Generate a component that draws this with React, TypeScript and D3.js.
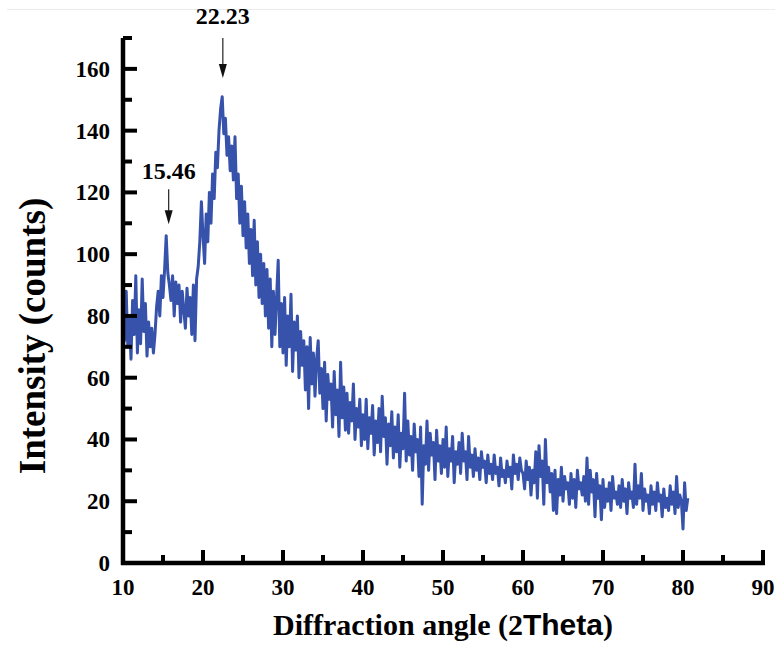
import { useEffect, useRef } from 'react'
import * as d3 from 'd3'

// XRD scan, sampled every 0.2 degrees from 10.0 to 80.6
const angleStart = 10
const angleStep = 0.2
const intensities = [
  84, 72, 88, 70, 79, 66, 85, 74, 93, 68,
  82, 71, 92, 75, 84, 67, 78, 70, 76, 68,
  74, 83, 88, 80, 93, 86, 95, 106, 94, 90,
  85, 93, 80, 91, 84, 90, 78, 88, 82, 76,
  89, 80, 86, 74, 90, 72, 92, 96, 104, 117,
  106, 97, 113, 104, 120, 110, 126, 118, 133, 128,
  140, 147, 151, 139, 144, 132, 138, 127, 135, 124,
  138, 118, 126, 110, 122, 106, 117, 102, 113, 97,
  108, 93, 111, 90, 104, 86, 100, 84, 97, 80,
  95, 76, 92, 70, 88, 74, 86, 98, 70, 84,
  68, 86, 64, 80, 70, 87, 62, 78, 69, 80,
  60, 75, 64, 72, 56, 70, 50, 73, 58, 68,
  54, 66, 72, 55, 63, 50, 65, 46, 61, 53,
  58, 44, 62, 48, 56, 41, 65, 47, 57, 43,
  55, 42, 52, 46, 58, 40, 50, 44, 53, 38,
  48, 40, 53, 37, 47, 42, 51, 35, 46, 39,
  50, 36, 54, 41, 47, 32, 45, 38, 49, 34,
  44, 36, 48, 31, 42, 37, 55, 33, 46, 35,
  41, 30, 45, 36, 40, 28, 44, 19, 38, 32,
  46, 30, 42, 35, 39, 27, 43, 33, 38, 29,
  40, 31, 44, 28, 37, 33, 41, 26, 36, 32,
  39, 29, 42, 33, 36, 27, 41, 31, 35, 28,
  37, 30, 34, 27, 36, 31, 33, 26, 35, 29,
  32, 27, 35, 29, 31, 25, 34, 28, 30, 26,
  33, 28, 31, 24, 35, 29, 32, 27, 34, 30,
  29, 24, 33, 27, 31, 22, 30, 26, 36, 21,
  38, 28, 33, 19, 40, 26, 31, 23, 29, 17,
  30, 16, 27, 22, 31, 20, 28, 24, 26, 19,
  29, 21, 27, 18, 30, 24, 26, 22, 28, 20,
  34, 19, 30, 23, 27, 15, 29, 21, 25, 14,
  27, 18, 24, 20, 26, 17, 28, 21, 23, 19,
  25, 18, 27, 20, 24, 16, 26, 21, 23, 18,
  32, 19, 25, 21, 29, 17, 24, 20, 22, 16,
  25, 19, 23, 17, 26, 20, 22, 15, 24, 18,
  21, 17, 25, 19, 23, 16, 28, 18, 22, 20,
  11, 26, 17, 21
]

const xTicks = [10, 20, 30, 40, 50, 60, 70, 80, 90]
const yTicks = [0, 20, 40, 60, 80, 100, 120, 140, 160]
const peakLabels = [
  { angle: 22.23, text: '22.23', top: 170, len: 40, labelGap: 14 },
  { angle: 15.46, text: '15.46', top: 121, len: 35, labelGap: 10 }
]

const serif = '"Liberation Serif", "Times New Roman", serif'
const sans = '"Liberation Sans", Arial, sans-serif'

export default function App() {
  const ref = useRef<SVGSVGElement>(null)

  useEffect(() => {
    const svg = d3.select(ref.current)
    svg.selectAll('*').remove()

    const W = 775
    const H = 652
    const x = d3.scaleLinear().domain([10, 90]).range([123, 763])
    const y = d3.scaleLinear().domain([0, 170]).range([563, 38])

    svg.append('rect').attr('width', W).attr('height', H).attr('fill', '#fff')

    // faint top rule
    svg.append('line')
      .attr('x1', 7).attr('x2', W).attr('y1', 9.5).attr('y2', 9.5)
      .attr('stroke', '#ececec').attr('stroke-width', 1)

    const points = intensities.map((v, i) => [angleStart + i * angleStep, v] as [number, number])
    const line = d3.line<[number, number]>()
      .x(d => x(d[0]))
      .y(d => y(d[1]))

    svg.append('path')
      .datum(points)
      .attr('d', line)
      .attr('fill', 'none')
      .attr('stroke', '#3752aa')
      .attr('stroke-width', 3)
      .attr('stroke-linejoin', 'round')

    // axes
    const axisG = svg.append('g').attr('stroke', '#000')
    axisG.append('line')
      .attr('x1', x(10)).attr('x2', x(10))
      .attr('y1', y(170)).attr('y2', y(0) + 2)
      .attr('stroke-width', 4.5)
    axisG.append('line')
      .attr('x1', x(10) - 2).attr('x2', x(90) + 2)
      .attr('y1', y(0)).attr('y2', y(0))
      .attr('stroke-width', 4.5)

    const yMinor = d3.range(10, 171, 20)
    axisG.selectAll('.ymaj').data(yTicks.slice(1)).enter().append('line')
      .attr('x1', x(10)).attr('x2', x(10) + 14)
      .attr('y1', d => y(d)).attr('y2', d => y(d))
      .attr('stroke-width', 4)
    axisG.selectAll('.ymin').data(yMinor).enter().append('line')
      .attr('x1', x(10)).attr('x2', x(10) + 9)
      .attr('y1', d => y(d)).attr('y2', d => y(d))
      .attr('stroke-width', 4)

    const xMinor = d3.range(15, 90, 10)
    axisG.selectAll('.xmaj').data(xTicks.slice(1)).enter().append('line')
      .attr('x1', d => x(d)).attr('x2', d => x(d))
      .attr('y1', y(0)).attr('y2', y(0) - 13)
      .attr('stroke-width', 4)
    axisG.selectAll('.xmin').data(xMinor).enter().append('line')
      .attr('x1', d => x(d)).attr('x2', d => x(d))
      .attr('y1', y(0)).attr('y2', y(0) - 8)
      .attr('stroke-width', 4)

    // tick labels
    svg.selectAll('.xl').data(xTicks).enter().append('text')
      .attr('x', d => x(d)).attr('y', 595)
      .attr('text-anchor', 'middle')
      .style('font-family', serif).style('font-weight', 'bold').style('font-size', '23px')
      .text(d => d)

    svg.selectAll('.yl').data(yTicks).enter().append('text')
      .attr('x', 110).attr('y', d => y(d) + 8)
      .attr('text-anchor', 'end')
      .style('font-family', serif).style('font-weight', 'bold').style('font-size', '23px')
      .text(d => d)

    // axis titles
    const xt = svg.append('text')
      .attr('x', 443).attr('y', 635)
      .attr('text-anchor', 'middle')
      .style('font-weight', 'bold').style('font-size', '30px')
      .style('font-family', serif)
    xt.append('tspan').text('Diffraction angle (2')
    xt.append('tspan').style('font-family', sans).text('Theta')
    xt.append('tspan').text(')')

    svg.append('text')
      .attr('transform', 'translate(45,336) rotate(-90)')
      .attr('text-anchor', 'middle')
      .style('font-family', serif).style('font-weight', 'bold').style('font-size', '37px')
      .text('Intensity (counts)')

    // peak annotations
    peakLabels.forEach(p => {
      const px = x(p.angle) + 2
      const y0 = y(p.top)
      const y1 = y0 + p.len
      svg.append('line')
        .attr('x1', px).attr('x2', px).attr('y1', y0).attr('y2', y1 - 12)
        .attr('stroke', '#222').attr('stroke-width', 1.2)
      svg.append('path')
        .attr('d', `M${px - 4},${y1 - 14} L${px + 4},${y1 - 14} L${px},${y1} Z`)
        .attr('fill', '#111')
      svg.append('text')
        .attr('x', px).attr('y', y0 - p.labelGap)
        .attr('text-anchor', 'middle')
        .style('font-family', serif).style('font-weight', 'bold').style('font-size', '24px')
        .text(p.text)
    })
  }, [])

  return (
    <svg ref={ref} width={775} height={652}
      style={{ position: 'absolute', left: 0, top: 0, display: 'block' }} />
  )
}
